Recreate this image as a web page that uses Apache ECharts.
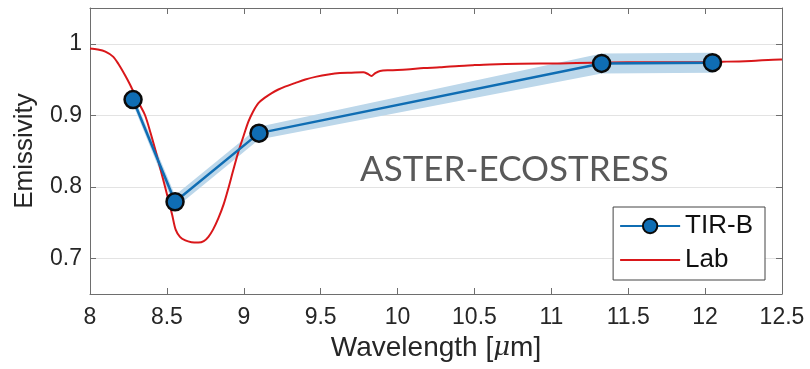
<!DOCTYPE html>
<html>
<head>
<meta charset="utf-8">
<script src="https://cdn.jsdelivr.net/npm/echarts@6/dist/echarts.min.js"></script>
<style>html,body{margin:0;padding:0;background:#fff}#c{width:810px;height:369px}</style>
</head>
<body>
<div id="c"></div>
<script>
// TIR-B measurements
const tirWl = [8.28, 8.553, 9.099, 11.327, 12.048];
const tirVal = [0.922, 0.779, 0.875, 0.9725, 0.9735];
const tirErr = [0.007, 0.009, 0.009, 0.014, 0.014];
// Lab spectrum
const labWl = [8.00, 8.05, 8.10, 8.15, 8.184, 8.228, 8.26, 8.293, 8.325, 8.358, 8.393, 8.427, 8.46, 8.488, 8.512, 8.535, 8.557, 8.585, 8.62, 8.66, 8.705, 8.74, 8.77, 8.80, 8.835, 8.87, 8.90, 8.93, 8.965, 9.00, 9.03, 9.06, 9.095, 9.14, 9.182, 9.225, 9.268, 9.333, 9.40, 9.473, 9.55, 9.625, 9.70, 9.777, 9.805, 9.83, 9.855, 9.886, 9.95, 10.06, 10.17, 10.275, 10.40, 10.49, 10.6, 10.8, 11.056, 11.27, 11.5, 11.8, 12.14, 12.3, 12.49, 12.5];
const labVal = [0.9935, 0.992, 0.989, 0.982, 0.972, 0.956, 0.943, 0.928, 0.914, 0.900, 0.876, 0.850, 0.823, 0.800, 0.780, 0.760, 0.740, 0.730, 0.725, 0.7225, 0.722, 0.724, 0.730, 0.740, 0.756, 0.776, 0.798, 0.822, 0.849, 0.872, 0.891, 0.905, 0.917, 0.925, 0.931, 0.936, 0.940, 0.945, 0.950, 0.954, 0.957, 0.959, 0.9595, 0.960, 0.958, 0.955, 0.959, 0.962, 0.963, 0.964, 0.966, 0.967, 0.969, 0.970, 0.971, 0.972, 0.9725, 0.9735, 0.974, 0.974, 0.975, 0.976, 0.978, 0.978];
const xTicks = ['8', '8.5', '9', '9.5', '10', '10.5', '11', '11.5', '12', '12.5'];
const yTicks = ['0.7', '0.8', '0.9', '1'];

const chart = echarts.init(document.getElementById('c'), null, {renderer: 'canvas'});
const axisCol = '#6e6e6e';
const labCol = '#262626';
const font = 'Liberation Sans, Arial, sans-serif';

chart.setOption({
  animation: false,
  backgroundColor: '#fff',
  title: {
    text: 'ASTER-ECOSTRESS',
    left: 355, top: 147,
    textStyle: {fontFamily: 'Lato', fontWeight: 'normal', fontSize: 35, color: '#595959'}
  },
  grid: {left: 90, right: 28, top: 8, bottom: 75, containLabel: false},
  legend: {
    data: ['TIR-B', {name: 'Lab', itemStyle: {opacity: 0}}],
    orient: 'vertical',
    right: 45, top: 207,
    itemWidth: 60, itemHeight: 18, itemGap: 8,
    padding: [6, 12, 7, 6],
    borderColor: '#444', borderWidth: 1,
    backgroundColor: '#fff',
    textStyle: {fontFamily: font, fontSize: 26, color: '#111'}
  },
  xAxis: [{
    type: 'value', min: 8, max: 12.5, interval: 0.5,
    name: 'Wavelength [{mu|\u03bc}m]', nameLocation: 'middle', nameGap: 34,
    nameTextStyle: {fontFamily: font, fontSize: 28, color: labCol,
      rich: {mu: {fontFamily: 'DejaVu Serif', fontStyle: 'italic', fontSize: 26, color: labCol}}},
    axisLine: {lineStyle: {color: axisCol, width: 1}},
    axisTick: {inside: true, length: 6, lineStyle: {color: axisCol}},
    axisLabel: {fontFamily: font, fontSize: 23, color: labCol, margin: 12,
      formatter: (v) => xTicks[Math.round((v - 8) / 0.5)] },
    splitLine: {show: false}
  }, {
    type: 'value', min: 8, max: 12.5, interval: 0.5, position: 'top',
    axisLine: {show: true, lineStyle: {color: axisCol, width: 1}},
    axisTick: {inside: true, length: 6, lineStyle: {color: axisCol}},
    axisLabel: {show: false}, splitLine: {show: false}
  }],
  yAxis: [{
    type: 'value', min: 0.65, max: 1.05, splitNumber: 4,
    name: 'Emissivity', nameLocation: 'middle', nameGap: 52, nameRotate: 90,
    nameTextStyle: {fontFamily: font, fontSize: 26, color: labCol},
    axisLine: {show: true, lineStyle: {color: axisCol, width: 1}},
    axisTick: {inside: true, length: 6, lineStyle: {color: axisCol}},
    axisLabel: {fontFamily: font, fontSize: 23, color: labCol, margin: 8,
      showMinLabel: false, showMaxLabel: false,
      formatter: (v) => { const i = Math.round((v - 0.7) / 0.1); return (Math.abs(v - (0.7 + i * 0.1)) < 1e-6 && yTicks[i]) ? yTicks[i] : ''; } },
    splitLine: {show: true, lineStyle: {color: '#e3e3e3', width: 1}}
  }, {
    type: 'value', min: 0.65, max: 1.05, splitNumber: 4, position: 'right',
    axisLine: {show: true, lineStyle: {color: axisCol, width: 1}},
    axisTick: {inside: true, length: 6, lineStyle: {color: axisCol}},
    axisLabel: {show: false}, splitLine: {show: false}
  }],
  series: [
    {
      name: 'band', type: 'custom', silent: true, z: 1,
      data: [[tirWl[0], tirVal[0]]],
      renderItem: (params, api) => {
        const up = tirWl.map((w, i) => api.coord([w, tirVal[i] + tirErr[i]]));
        const lo = tirWl.map((w, i) => api.coord([w, tirVal[i] - tirErr[i]])).reverse();
        return {type: 'polygon', shape: {points: up.concat(lo)}, style: {fill: '#bcd7ea'}};
      }
    },
    {
      name: 'Lab', type: 'line', data: labWl.map((w, i) => [w, labVal[i]]),
      symbol: 'none', smooth: 0.3, lineStyle: {color: '#d9171a', width: 2}, itemStyle: {color: '#d9171a'}, z: 3
    },
    {
      name: 'TIR-B', type: 'line', data: tirWl.map((w, i) => [w, tirVal[i]]),
      symbol: 'circle', symbolSize: 17,
      lineStyle: {color: '#0f6db3', width: 2.5},
      itemStyle: {color: '#0f6db3', borderColor: '#0a0a0a', borderWidth: 2.5}, z: 4
    }
  ]
});
</script>
</body>
</html>
